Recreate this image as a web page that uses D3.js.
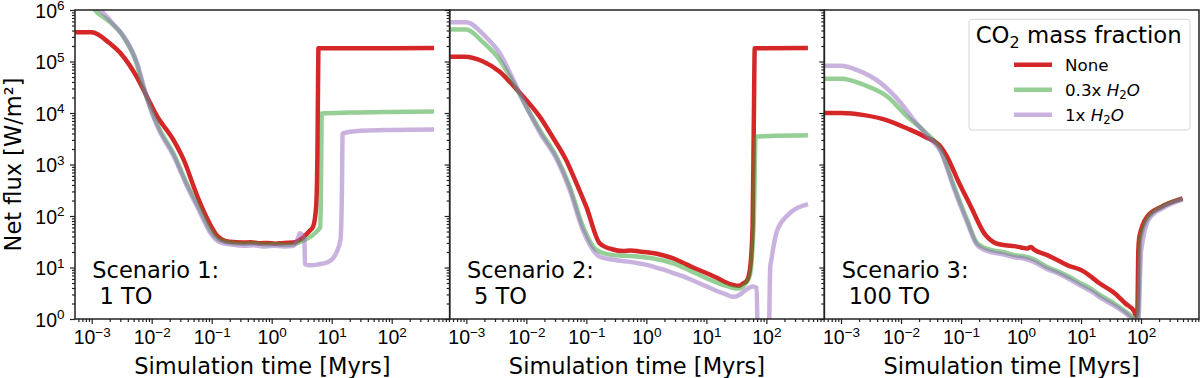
<!DOCTYPE html>
<html>
<head>
<meta charset="utf-8">
<script src="https://cdn.jsdelivr.net/npm/d3@7"></script>
<style>
  body { margin: 0; background: #fff; }
  svg { font-family: "DejaVu Sans", sans-serif; }
</style>
</head>
<body>
<div id="chart"></div>
<script>
// labels
var scenarioLines = ["Scenario 1:", "Scenario 2:", "Scenario 3:"];
var oceanLines = [" 1 TO", " 5 TO", " 100 TO"];
var seriesLabels = ["None", "0.3x", "1x"];
var xTickValues = [1e-3, 1e-2, 1e-1, 1, 10, 100];
var yTickValues = [1, 10, 100, 1e3, 1e4, 1e5, 1e6];

// [time in Myrs, net flux in W/m2]
var s1None = [[5.3e-4,3.7e5],[1e-3,3.7e5],[2.0e-3,2.25e5],[3.2e-3,1.34e5],[5.6e-3,5.1e4],[8.3e-3,2.1e4],[1.2e-2,9.1e3],[2.3e-2,3.0e3],[3.6e-2,1.07e3],[4.9e-2,400],[6.4e-2,179],[8.3e-2,91],[0.12,43],[0.154,34],[0.2,31.5],[0.33,30.5],[0.45,31],[0.64,29.5],[0.85,30],[1.13,29],[1.6,30],[2.26,30.5],[3.3,38],[4.3,52],[4.9,62],[5.5,150],[5.8,2e3],[6.0,1.8e5],[20,1.81e5],[507,1.82e5]];
var s1Low = [[5.3e-4,1.1e6],[1e-3,1.1e6],[1.3e-3,8.5e5],[2.0e-3,5.9e5],[3.4e-3,3.0e5],[5.6e-3,9.1e4],[7.2e-3,3.2e4],[9.4e-3,1.32e4],[1.37e-2,4.7e3],[2.3e-2,1.66e3],[3.8e-2,440],[6.4e-2,132],[9.4e-2,54],[0.137,34],[0.226,30],[0.35,29],[0.5,29.5],[0.8,28],[1.1,28.5],[1.6,27.5],[2.26,28],[3.3,33],[4.9,43],[5.8,52],[6.4,60],[6.6,200],[6.8,9.8e3],[20,1.02e4],[100,1.05e4],[507,1.07e4]];
var s1High = [[5.3e-4,1.3e6],[1e-3,1.3e6],[1.6e-3,8.5e5],[2.2e-3,5.6e5],[3.6e-3,2.8e5],[5.7e-3,9.5e4],[7.4e-3,3.2e4],[9.4e-3,1.26e4],[1.37e-2,4.3e3],[2.3e-2,1.5e3],[3.8e-2,400],[6.4e-2,117],[9.4e-2,48],[0.137,31],[0.226,27.5],[0.35,26.5],[0.5,27],[0.8,25.5],[1.1,26.5],[1.6,25.5],[2.26,26],[2.7,35],[2.96,46],[3.5,36],[3.6,11.5],[4.5,11],[6,11.5],[8.3,12.5],[10.5,15],[12.1,20],[14,35],[14.8,300],[15.2,4.0e3],[30,4.5e3],[100,4.7e3],[507,4.8e3]];

var s2None = [[5.3e-4,1.24e5],[9.4e-4,1.24e5],[1.9e-3,1.0e5],[3.6e-3,6.3e4],[5.9e-3,3.5e4],[1e-2,1.78e4],[1.67e-2,8.5e3],[2.7e-2,3.5e3],[4.6e-2,1.22e3],[6.8e-2,437],[0.1,150],[0.167,29.5],[0.277,22.4],[0.4,21],[0.55,21.5],[0.77,20.4],[1.1,19.5],[1.5,18.5],[2.0,17],[2.8,15.1],[4,12.5],[6,10],[10,7.8],[15,6.3],[20,5.3],[27.7,4.6],[35,4.4],[41,4.9],[47,5.5],[53,8.9],[59,63],[62,1e4],[64,1.8e5],[493,1.82e5]];
var s2Low = [[5.3e-4,4.2e5],[1e-3,4.2e5],[1.87e-3,2.4e5],[3.6e-3,1.07e5],[5.9e-3,4.1e4],[1e-2,1.32e4],[1.67e-2,4.7e3],[3.2e-2,1.4e3],[5.3e-2,370],[8.8e-2,62],[0.147,22],[0.277,17.4],[0.4,17],[0.55,16.8],[0.77,16.2],[1.1,15.5],[1.5,14.5],[2.0,13.5],[2.8,12],[4,10.2],[6,8.2],[10,6.2],[15,5.1],[20,4.5],[27.7,4.0],[35,3.9],[43,4.6],[53,7],[62,100],[66,3.5e3],[150,3.6e3],[493,3.7e3]];
var s2High = [[5.3e-4,5.8e5],[1e-3,5.8e5],[2.0e-3,3.2e5],[3.6e-3,1.45e5],[5.9e-3,4.7e4],[1e-2,1.32e4],[1.67e-2,4.2e3],[3.2e-2,1.26e3],[5.3e-2,316],[8.8e-2,52],[0.167,16.2],[0.3,14],[0.5,13],[0.77,12],[1.1,11],[1.5,9.8],[2.0,9],[2.8,7.8],[4,6.8],[6,5.6],[10,4.3],[15,3.5],[20,3.1],[27.7,2.7],[35,2.9],[43,3.5],[59,4.3],[69,4.0],[72,0.3],[109,0.3],[116,10],[121,14],[147,47],[215,98],[493,170]];

var s3None = [[5.3e-4,1.0e4],[1e-3,1.0e4],[2.44e-3,9.1e3],[5.9e-3,7.2e3],[1.27e-2,5.0e3],[2.44e-2,3.5e3],[4.6e-2,2.2e3],[5.9e-2,1.4e3],[8.8e-2,500],[0.147,150],[0.244,46],[0.383,29.5],[0.55,27],[0.77,26],[1.0,24.5],[1.27,23.4],[1.45,25],[1.67,22],[2.74,17.4],[4,14],[6,11],[10,8.9],[15,6.5],[20,5],[36,3.2],[55,2],[77,1.4],[83,1.15],[87,1.5],[90,20],[94,40],[127,98],[215,150],[493,220]];
var s3Low = [[5.3e-4,4.6e4],[1e-3,4.6e4],[2.44e-3,3.5e4],[5.9e-3,2.1e4],[1.27e-2,8.5e3],[2.44e-2,4.4e3],[4.6e-2,1.9e3],[7.7e-2,370],[0.127,83],[0.187,29.5],[0.316,22],[0.5,20],[0.77,17.4],[1.1,16.5],[1.6,14.5],[2.74,10.2],[4,8.5],[6,6.8],[10,4.9],[15,3.8],[20,3.0],[36,2.0],[55,1.4],[72,1.1],[88,0.95],[94,10],[97,35],[132,93],[218,148],[493,214]];
var s3High = [[5.3e-4,8.3e4],[1e-3,8.3e4],[1.87e-3,6.8e4],[4.6e-3,3.8e4],[1e-2,1.55e4],[1.67e-2,7.1e3],[3.0e-2,3.2e3],[4.6e-2,1.78e3],[7.7e-2,330],[0.127,74],[0.187,27],[0.316,20],[0.5,18],[0.77,15.8],[1.1,15],[1.6,13],[2.74,9.3],[4,7.8],[6,6.2],[10,4.4],[15,3.4],[20,2.7],[36,1.8],[55,1.3],[72,1.0],[90,0.9],[100,20],[137,89],[226,141],[493,209]];

var panels = [[s1None, s1Low, s1High], [s2None, s2Low, s2High], [s3None, s3Low, s3High]];
var colors = ["#d62728", "#2ca02c", "#9467bd"];
var alphas = [1, 0.5, 0.5];

var W = 1200, H = 378,
    margin = {top: 10, right: 1, bottom: 59, left: 75},
    panelW = (W - margin.left - margin.right) / 3,
    plotH = H - margin.top - margin.bottom;

var x = d3.scaleLog().domain([Math.pow(10, -3.278), Math.pow(10, 2.966)]).range([0, panelW]);
var y = d3.scaleLog().domain([1, 1e6]).range([plotH, 0]);

function minors(scale) {
    var d = scale.domain(), out = [];
    for (var e = -4; e <= 6; e++) {
        for (var k = 2; k <= 9; k++) {
            var v = k * Math.pow(10, e);
            if (v >= d[0] && v <= d[1]) out.push(v);
        }
    }
    return out;
}

function powLabel(sel, dy) {
    sel.each(function (d) {
        var e = Math.round(Math.log10(d));
        var t = d3.select(this).text(null);
        t.append("tspan").text("10");
        t.append("tspan").attr("dy", dy).attr("font-size", 13.5)
            .text(e < 0 ? "\u2212" + (-e) : String(e));
    });
}

var svg = d3.select("#chart").append("svg")
    .attr("width", W).attr("height", H);

var defs = svg.append("defs");
defs.append("clipPath").attr("id", "clip")
    .append("rect").attr("width", panelW).attr("height", plotH);

var line = d3.line()
    .x(function (d) { return x(d[0]); })
    .y(function (d) { return y(d[1]); })
    .curve(d3.curveMonotoneX);

panels.forEach(function (series, i) {
    var g = svg.append("g")
        .attr("transform", "translate(" + (margin.left + i * panelW) + "," + margin.top + ")");

    var plot = g.append("g").attr("clip-path", "url(#clip)");
    series.forEach(function (s, j) {
        plot.append("path")
            .datum(s)
            .attr("d", line)
            .attr("fill", "none")
            .attr("stroke", colors[j])
            .attr("stroke-opacity", alphas[j])
            .attr("stroke-width", 4.5)
            .attr("stroke-linejoin", "round");
    });

    // x axis
    var xa = g.append("g").attr("transform", "translate(0," + plotH + ")");
    xa.call(d3.axisBottom(x).tickValues(minors(x)).tickSize(3).tickFormat(""));
    var xm = g.append("g").attr("transform", "translate(0," + plotH + ")")
        .call(d3.axisBottom(x).tickValues(xTickValues).tickSize(5));
    xm.selectAll(".tick text").attr("y", 25).attr("dy", 0)
        .attr("font-size", 19.5).attr("fill", "#000").call(powLabel, -7);

    // y axis
    g.append("g").call(d3.axisLeft(y).tickValues(minors(y)).tickSize(3).tickFormat(""));
    var ym = g.append("g").call(d3.axisLeft(y).tickValues(yTickValues).tickSize(5));
    if (i === 0) {
        ym.selectAll(".tick text").attr("x", -10.5).attr("dy", 0).attr("y", 7.4)
            .attr("font-size", 19.5).attr("fill", "#000").call(powLabel, -7.5);
    } else {
        ym.selectAll(".tick text").remove();
    }
    g.selectAll(".domain").remove();
    g.selectAll(".tick line").attr("stroke", "#222").attr("stroke-width", 1.2);

    g.append("rect")
        .attr("width", panelW).attr("height", plotH)
        .attr("fill", "none").attr("stroke", "#222").attr("stroke-width", 1.5);

    // scenario label
    var lab = g.append("text").attr("font-size", 22.5).attr("fill", "#000")
        .style("white-space", "pre");
    lab.append("tspan").attr("x", 17.3).attr("y", 268.3).text(scenarioLines[i]);
    lab.append("tspan").attr("x", 17.3).attr("y", 294).text(oceanLines[i]);

    g.append("text")
        .attr("x", panelW / 2).attr("y", H - margin.top - 4)
        .attr("text-anchor", "middle").attr("font-size", 22.5)
        .text("Simulation time [Myrs]");
});

svg.append("text")
    .attr("transform", "translate(20.5," + (margin.top + plotH / 2) + ") rotate(-90)")
    .attr("text-anchor", "middle").attr("font-size", 22.5)
    .text("Net flux [W/m\u00b2]");

// legend
var lg = svg.append("g").attr("transform", "translate(969,19.3)");
lg.append("rect").attr("width", 221).attr("height", 110.7).attr("rx", 3)
    .attr("fill", "#fff").attr("fill-opacity", 0.8)
    .attr("stroke", "#d6d6d6").attr("stroke-width", 1);
var title = lg.append("text").attr("x", 6.7).attr("y", 24).attr("font-size", 22.8);
title.append("tspan").text("CO");
title.append("tspan").attr("dy", 4.5).attr("font-size", 16).text("2");
title.append("tspan").attr("dy", -4.5).text(" mass fraction");

seriesLabels.forEach(function (name, j) {
    var cy = 45.4 + j * 25;
    lg.append("line").attr("x1", 45).attr("x2", 83).attr("y1", cy).attr("y2", cy)
        .attr("stroke", colors[j]).attr("stroke-opacity", alphas[j]).attr("stroke-width", 4.5);
    var t = lg.append("text").attr("x", 96).attr("y", cy + 6).attr("font-size", 16.7);
    t.append("tspan").text(name);
    if (j > 0) {
        t.append("tspan").attr("font-style", "italic").text(" H");
        t.append("tspan").attr("dy", 3.5).attr("font-size", 11.7).text("2");
        t.append("tspan").attr("dy", -3.5).attr("font-style", "italic").text("O");
    }
});
</script>
</body>
</html>
